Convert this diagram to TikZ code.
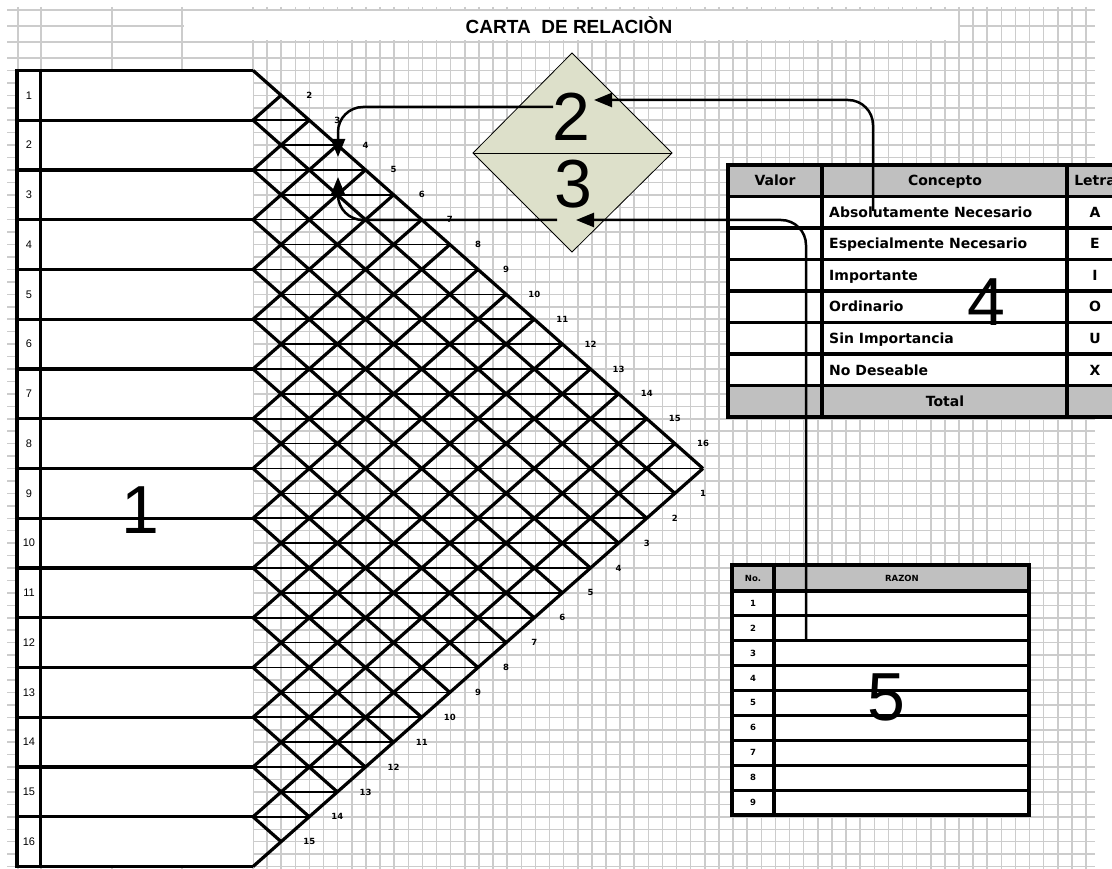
\documentclass[tikz,border=0pt]{standalone}
\usepackage{fontspec}
\setmainfont{Liberation Sans}
\newfontfamily\tblfont{DejaVu Sans}
\usetikzlibrary{arrows.meta}
\definecolor{gridgray}{RGB}{204,204,204}
\definecolor{hdrgray}{RGB}{192,192,192}
\definecolor{sage}{RGB}{221,224,202}

\begin{document}
\begin{tikzpicture}[x=1pt,y=-1pt,
  gridline/.style={draw=gridgray,line width=1.5pt},
  heavy/.style={line width=3.2pt},
  lat/.style={line width=3.2pt},
  latmid/.style={line width=1.6pt},
  conn/.style={line width=2.5pt,rounded corners=25pt,-{Triangle[length=18pt,width=14pt]}},
  bignum/.style={font=\fontsize{68}{68}\selectfont,inner sep=0pt},
  tiny/.style={font=\tblfont\bfseries\fontsize{8.5}{8.5}\selectfont,inner sep=0pt},
  cell/.style={font=\tblfont\bfseries\fontsize{14}{14}\selectfont,inner sep=0pt,anchor=base}]
\useasboundingbox (0,0) rectangle (1112,869);
\clip (0,0) rectangle (1112,869);
\foreach \x in {18,41,112,182} \draw[gridline] (\x,7) -- (\x,869);
\foreach \k in {0,...,59} \draw[gridline] (253+14.12*\k,7) -- (253+14.12*\k,869);
\foreach \y in {10,26,42} \draw[gridline] (7,\y) -- (1095,\y);
\foreach \m in {0,...,66} \draw[gridline] (7,58+12.44*\m) -- (1095,58+12.44*\m);
\fill[white] (183.5,11.5) rectangle (958,40.5);
\node[font=\bfseries\fontsize{19}{19}\selectfont,inner sep=0pt] (title) at (569,25) {CARTA\ \ DE RELACIÒN};

\def\rh{49.76}
\filldraw[fill=white,heavy] (253,70.4) -- (17,70.4) -- (17,866.6) -- (253,866.6);
\draw[heavy] (40.5,70.4) -- (40.5,866.6);
\foreach \i in {1,...,15} \draw[heavy] (17,70.4+\rh*\i) -- (253,70.4+\rh*\i);
\foreach \i in {1,...,16} \node[font=\fontsize{11}{11}\selectfont,inner sep=0pt] (dep\i) at (29,70.4+\rh*\i-\rh/2) {\i};
\node[bignum] (one) at (140,510) {1};

\begin{scope}[shift={(253,70.4)},x=28.125pt,y=-24.88pt]
\foreach \k in {0,...,16} {
  \draw[lat] (0,2*\k) -- (16-\k,16+\k);
  \draw[lat] (0,2*\k) -- (\k,\k);
}
\foreach \m in {2,...,30} {
  \pgfmathsetmacro\xs{mod(\m,2)}
  \pgfmathsetmacro\xe{min(\m,32-\m)}
  \draw[latmid] (\xs,\m) -- (\xe,\m);
}
\foreach \j in {2,...,16} \node[tiny] (top\j) at (\j,\j-1) {\j};
\foreach \n in {1,...,15} \node[tiny] (bot\n) at (17-\n,16+\n) {\n};
\end{scope}

\filldraw[fill=sage,line width=0.8pt] (572,53) -- (672,153) -- (572,252) -- (473,153) -- cycle;
\draw[line width=0.8pt] (473,153) -- (672,153);
\node[bignum] (two) at (571,117) {2};
\node[bignum] (three) at (573,184) {3};

\fill[hdrgray] (728,165) rectangle (1125,196.5);
\fill[white] (728,196.5) rectangle (1125,385.5);
\fill[hdrgray] (728,385.5) rectangle (1125,417);
\draw[heavy] (728,165) rectangle (1125,417);
\foreach \r in {1,...,7} \draw[heavy] (728,165+31.5*\r) -- (1125,165+31.5*\r);
\draw[heavy] (822,165) -- (822,417);
\draw[heavy] (1067,165) -- (1067,417);
\node[cell] (valor) at (775,186) {Valor};
\node[cell] (concepto) at (945,186) {Concepto};
\node[cell] (letra) at (1095,186) {Letra};
\foreach \t/\l [count=\r] in {Absolutamente Necesario/A,Especialmente Necesario/E,Importante/I,Ordinario/O,Sin Importancia/U,No Deseable/X} {
  \node[cell,anchor=base west] (cpt\r) at (829,186+31.5*\r) {\t};
  \node[cell] (let\r) at (1095,186+31.5*\r) {\l};
}
\node[cell] (total) at (945,406) {Total};
\node[bignum] (four) at (986,302) {4};

\fill[hdrgray] (732,565) rectangle (1029,591);
\fill[white] (732,591) rectangle (1029,815);
\draw[heavy] (732,565) rectangle (1029,815);
\foreach \r in {0,...,8} \draw[heavy] (732,591+24.89*\r) -- (1029,591+24.89*\r);
\draw[heavy] (774,565) -- (774,815);
\node[tiny] (no) at (753,578) {No.};
\node[tiny] (razon) at (902,578) {RAZON};
\foreach \r in {1,...,9} \node[tiny] (n\r) at (753,578.5+24.89*\r) {\r};
\node[bignum] (five) at (886,697) {5};

\coordinate (twoIn) at (594,100);
\coordinate (twoOut) at (553,107);
\coordinate (threeIn) at (576,220);
\coordinate (threeOut) at (557,220);
\coordinate (valTip) at (338,157);
\coordinate (rsnTip) at (338,177);
\coordinate (cptSrc) at (873,211);
\coordinate (rznSrc) at (806,640);
\draw[conn] (cptSrc) |- (twoIn);
\draw[conn] (twoOut) -| (valTip);
\draw[conn] (rznSrc) |- (threeIn);
\draw[conn] (threeOut) -| (rsnTip);
\end{tikzpicture}
\end{document}
